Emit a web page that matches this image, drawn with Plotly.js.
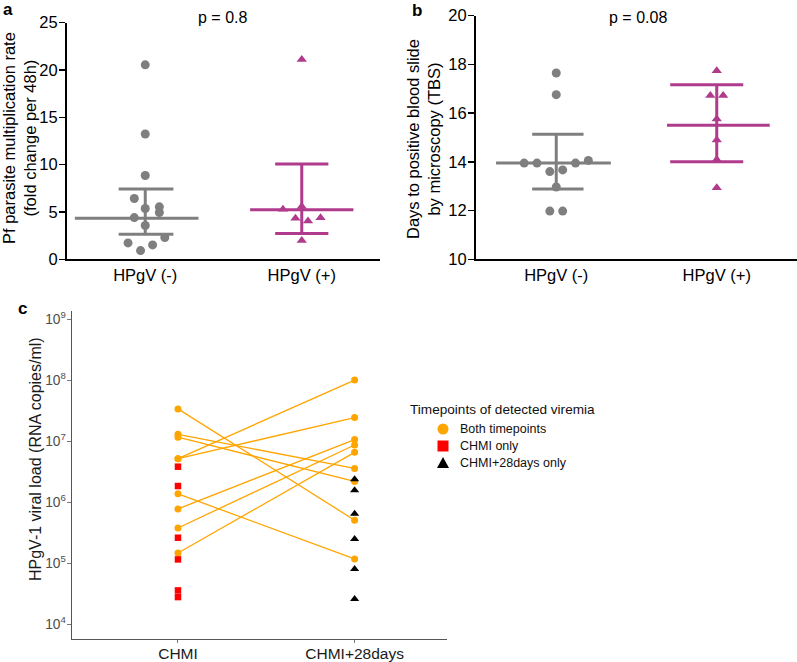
<!DOCTYPE html>
<html>
<head>
<meta charset="utf-8">
<script src="https://cdn.plot.ly/plotly-3.0.1.min.js"></script>
<style>html,body{margin:0;padding:0;background:#fff;}#chart{width:797px;height:662px;}</style>
</head>
<body>
<div id="chart"></div>
<script>
// ---------- DATA ----------
const groupLabels = ['HPgV (-)', 'HPgV (+)'];

// Panel a: parasite multiplication rate
const pmrNeg = [20.55, 13.24, 8.86, 6.43, 5.37, 5.54, 4.94, 4.41, 3.57, 2.30, 1.73, 1.52, 0.92];
const pmrNegJitter = [0, 0, 0, -0.07, 0, 0.09, 0.09, -0.07, 0, 0.125, -0.11, 0.047, -0.03];
const pmrPos = [21.1, 5.3, 5.58, 4.34, 4.06, 4.38, 1.98];
const pmrPosJitter = [0, -0.12, 0, -0.04, 0.04, 0.12, 0];
const pmrNegStats = [2.65, 4.34, 7.42];   // q1, median, q3
const pmrPosStats = [2.72, 5.23, 10.06];

// Panel b: days to positive thick blood smear
const tbsNeg = [17.65, 16.76, 13.95, 13.95, 13.6, 13.67, 13.95, 14.06, 12.97, 11.98, 11.98];
const tbsNegJitter = [0, 0, -0.2, -0.12, -0.04, 0.04, 0.12, 0.2, 0, -0.04, 0.04];
const tbsPos = [17.74, 16.72, 16.72, 15.76, 14.9, 14.1, 12.94];
const tbsPosJitter = [0, -0.04, 0.04, 0, 0, 0, 0];
const tbsNegStats = [12.89, 13.95, 15.13];
const tbsPosStats = [14.0, 15.5, 17.17];

// Panel c: HPgV-1 viral load
const timepoints = ['CHMI', 'CHMI+28days'];
const bothCHMI  = [3.4e7, 1.3e7, 1.17e7, 5.2e6, 5.2e6, 1.38e6, 7.8e5, 3.8e5, 1.48e5];
const bothDay28 = [5.1e5, 3.6e6, 2.2e6, 1.01e8, 2.45e7, 1.18e5, 1.07e7, 8.7e6, 6.6e6];
const chmiOnly  = [3.84e6, 1.85e6, 2.63e5, 1.16e5, 3.6e4, 2.8e4];
const day28Only = [2.4e6, 1.58e6, 6.5e5, 2.5e5, 8.1e4, 2.6e4];
const legendTitle = 'Timepoints of detected viremia';
const legendNames = ['Both timepoints', 'CHMI only', 'CHMI+28days only'];

// ---------- STYLE ----------
const FONT = 'Liberation Sans, Arial, Helvetica, sans-serif';
const GRAY = '#7f7f7f';
const MAG = '#b03a8c';
const ORANGE = '#ffa500';
const RED = '#ff0000';
const W = 797, H = 662;
const px = v => v / W, py = v => (H - v) / H;

function jittered(center, offs) { return offs.map(o => center + o); }

function summaryTraces(center, stats, color, medW, capW, xa, ya) {
  const [q1, med, q3] = stats;
  const base = {mode: 'lines', line: {color: color, width: 3}, xaxis: xa, yaxis: ya,
                showlegend: false, hoverinfo: 'skip'};
  return [
    Object.assign({}, base, {x: [center + medW[0], center + medW[1]], y: [med, med]}),
    Object.assign({}, base, {x: [center + capW[0], center + capW[1]], y: [q3, q3]}),
    Object.assign({}, base, {x: [center + capW[0], center + capW[1]], y: [q1, q1]}),
    Object.assign({}, base, {x: [center, center], y: [q1, q3]})
  ];
}

const traces = [];

// Panel a
traces.push({x: jittered(0, pmrNegJitter), y: pmrNeg, mode: 'markers', xaxis: 'x', yaxis: 'y',
  marker: {symbol: 'circle', size: 9, color: GRAY}, showlegend: false});
traces.push({x: jittered(1, pmrPosJitter), y: pmrPos, mode: 'markers', xaxis: 'x', yaxis: 'y',
  marker: {symbol: 'triangle-up', size: 9, color: MAG}, showlegend: false});
traces.push(...summaryTraces(0, pmrNegStats, GRAY, [-0.45, 0.34], [-0.17, 0.18], 'x', 'y'));
traces.push(...summaryTraces(1, pmrPosStats, MAG, [-0.33, 0.33], [-0.17, 0.17], 'x', 'y'));

// Panel b
traces.push({x: jittered(0, tbsNegJitter), y: tbsNeg, mode: 'markers', xaxis: 'x2', yaxis: 'y2',
  marker: {symbol: 'circle', size: 9, color: GRAY}, showlegend: false});
traces.push({x: jittered(1, tbsPosJitter), y: tbsPos, mode: 'markers', xaxis: 'x2', yaxis: 'y2',
  marker: {symbol: 'triangle-up', size: 9, color: MAG}, showlegend: false});
traces.push(...summaryTraces(0, tbsNegStats, GRAY, [-0.375, 0.34], [-0.15, 0.17], 'x2', 'y2'));
traces.push(...summaryTraces(1, tbsPosStats, MAG, [-0.31, 0.33], [-0.29, 0.165], 'x2', 'y2'));

// Panel c
const lx = [], ly = [];
bothCHMI.forEach((v, i) => { lx.push(0, 1, null); ly.push(v, bothDay28[i], null); });
traces.push({x: lx, y: ly, mode: 'lines', xaxis: 'x3', yaxis: 'y3',
  line: {color: ORANGE, width: 1.3}, showlegend: false, hoverinfo: 'skip'});
traces.push({x: bothCHMI.map(() => 0).concat(bothDay28.map(() => 1)), y: bothCHMI.concat(bothDay28),
  mode: 'markers', xaxis: 'x3', yaxis: 'y3', name: legendNames[0], showlegend: false,
  marker: {symbol: 'circle', size: 7, color: ORANGE}});
traces.push({x: chmiOnly.map(() => 0), y: chmiOnly, mode: 'markers', xaxis: 'x3', yaxis: 'y3',
  name: legendNames[1], showlegend: false, marker: {symbol: 'square', size: 6.5, color: RED}});
traces.push({x: day28Only.map(() => 1), y: day28Only, mode: 'markers', xaxis: 'x3', yaxis: 'y3',
  name: legendNames[2], showlegend: false, marker: {symbol: 'triangle-up', size: 8, color: '#000000'}});

const abX = {range: [-0.5, 1.5], tickvals: [0, 1], ticktext: groupLabels, showgrid: false, zeroline: false,
  showline: true, linecolor: '#000', linewidth: 2, ticks: '', tickfont: {family: FONT, size: 16.5, color: '#000'}, fixedrange: true};
const abY = {showgrid: false, zeroline: false, showline: true, linecolor: '#000', linewidth: 2,
  ticks: 'outside', ticklen: 6, tickwidth: 1.5, tickcolor: '#000', ticklabelstandoff: -2,
  tickfont: {family: FONT, size: 16.5, color: '#000'}};

// legend keys (drawn as shapes in pixel-derived paper coords)
const LX = 443, LY0 = 429, LDY = 17, LR = 5.5;
const shapes = [
  {type: 'circle', xref: 'paper', yref: 'paper', x0: px(LX - LR), x1: px(LX + LR), y0: py(LY0 + LR), y1: py(LY0 - LR),
   fillcolor: ORANGE, line: {width: 0}},
  {type: 'rect', xref: 'paper', yref: 'paper', x0: px(LX - LR), x1: px(LX + LR), y0: py(LY0 + LDY + LR), y1: py(LY0 + LDY - LR),
   fillcolor: RED, line: {width: 0}},
  {type: 'path', xref: 'paper', yref: 'paper',
   path: `M ${px(LX - 6)} ${py(LY0 + 2 * LDY + 5)} L ${px(LX + 6)} ${py(LY0 + 2 * LDY + 5)} L ${px(LX)} ${py(LY0 + 2 * LDY - 6)} Z`,
   fillcolor: '#000', line: {width: 0}}
];

const layout = {
  width: W, height: H, margin: {l: 0, r: 0, t: 0, b: 0},
  paper_bgcolor: '#fff', plot_bgcolor: 'rgba(0,0,0,0)',
  font: {family: FONT, color: '#000'},
  showlegend: false,
  shapes: shapes,
  xaxis: Object.assign({}, abX, {domain: [px(67), px(380)], anchor: 'y'}),
  yaxis: Object.assign({}, abY, {domain: [py(259.3), py(22.7)], range: [0, 25], dtick: 5, anchor: 'x'}),
  xaxis2: Object.assign({}, abX, {domain: [px(476), 1], anchor: 'y2'}),
  yaxis2: Object.assign({}, abY, {domain: [py(259.3), py(15.7)], range: [10, 20], dtick: 2, anchor: 'x2'}),
  xaxis3: {domain: [px(72), px(447)], anchor: 'y3', range: [-0.6, 1.523], tickvals: [0, 1], ticktext: timepoints,
    showgrid: false, zeroline: false, showline: true, linecolor: '#555', linewidth: 1,
    ticks: 'outside', ticklen: 3, tickcolor: '#777', ticklabelstandoff: -3,
    tickfont: {family: FONT, size: 15.5, color: '#1a1a1a'}},
  yaxis3: {domain: [py(639), py(311)], anchor: 'x3', type: 'log', range: [3.76, 9.136], dtick: 1,
    exponentformat: 'power', showexponent: 'all', showgrid: false, zeroline: false, showline: true,
    linecolor: '#555', linewidth: 1, ticks: 'outside', ticklen: 4, tickcolor: '#777', ticklabelstandoff: -1,
    tickfont: {family: FONT, size: 11, color: '#4d4d4d'}},
  annotations: [
    {text: '<b>a</b>', x: px(1), y: py(-2), xref: 'paper', yref: 'paper', xanchor: 'left', yanchor: 'top', showarrow: false, font: {size: 17, family: FONT}},
    {text: '<b>b</b>', x: px(410), y: py(-1), xref: 'paper', yref: 'paper', xanchor: 'left', yanchor: 'top', showarrow: false, font: {size: 17, family: FONT}},
    {text: '<b>c</b>', x: px(16), y: py(297), xref: 'paper', yref: 'paper', xanchor: 'left', yanchor: 'top', showarrow: false, font: {size: 17, family: FONT}},
    {text: 'p = 0.8', x: px(222), y: py(18), xref: 'paper', yref: 'paper', xanchor: 'center', yanchor: 'middle', showarrow: false, font: {size: 16, family: FONT}},
    {text: 'p = 0.08', x: px(638), y: py(18), xref: 'paper', yref: 'paper', xanchor: 'center', yanchor: 'middle', showarrow: false, font: {size: 16, family: FONT}},
    {text: 'Pf parasite multiplication rate<br>(fold change per 48h)', textangle: -90, x: px(19), y: py(138), xref: 'paper', yref: 'paper', xanchor: 'center', yanchor: 'middle', showarrow: false, font: {size: 16.5, family: FONT}},
    {text: 'Days to positive blood slide<br>by microscopy (TBS)', textangle: -90, x: px(424), y: py(139), xref: 'paper', yref: 'paper', xanchor: 'center', yanchor: 'middle', showarrow: false, font: {size: 16.5, family: FONT}},
    {text: 'HPgV-1 viral load (RNA copies/ml)', textangle: -90, x: px(36), y: py(459), xref: 'paper', yref: 'paper', xanchor: 'center', yanchor: 'middle', showarrow: false, font: {size: 16, family: FONT, color: '#1a1a1a'}},
    {text: legendTitle, x: px(408), y: py(409), xref: 'paper', yref: 'paper', xanchor: 'left', yanchor: 'middle', showarrow: false, font: {size: 13.6, family: FONT, color: '#111'}},
    {text: legendNames[0], x: px(458), y: py(LY0), xref: 'paper', yref: 'paper', xanchor: 'left', yanchor: 'middle', showarrow: false, font: {size: 12.5, family: FONT, color: '#111'}},
    {text: legendNames[1], x: px(458), y: py(LY0 + LDY), xref: 'paper', yref: 'paper', xanchor: 'left', yanchor: 'middle', showarrow: false, font: {size: 12.5, family: FONT, color: '#111'}},
    {text: legendNames[2], x: px(458), y: py(LY0 + 2 * LDY), xref: 'paper', yref: 'paper', xanchor: 'left', yanchor: 'middle', showarrow: false, font: {size: 12.5, family: FONT, color: '#111'}}
  ]
};

Plotly.newPlot('chart', traces, layout, {displayModeBar: false, staticPlot: true});
</script>
</body>
</html>
